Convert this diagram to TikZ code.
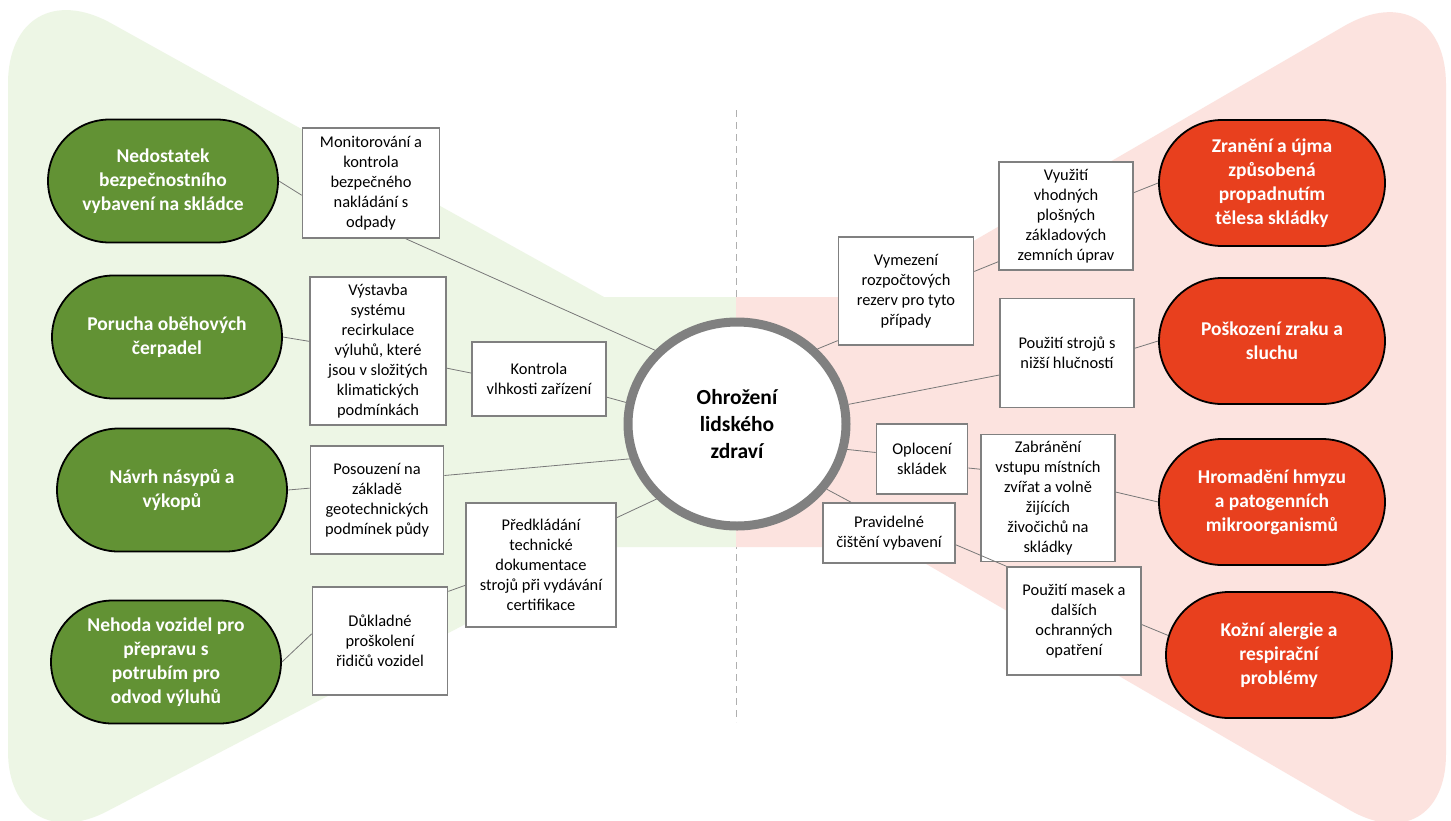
\documentclass[tikz,border=0pt]{standalone}
\usepackage{fontspec}
\setmainfont{Carlito}
\usetikzlibrary{positioning,calc,shapes.misc,shapes.geometric}

\definecolor{leafgreen}{RGB}{98,146,52}
\definecolor{harmred}{RGB}{232,64,30}
\definecolor{palegreen}{RGB}{237,246,229}
\definecolor{palered}{RGB}{252,227,223}
\definecolor{boxgray}{RGB}{128,128,128}
\definecolor{linkgray}{RGB}{120,120,120}
\definecolor{dashgray}{RGB}{175,175,175}

\begin{document}
\begin{tikzpicture}[x=1pt, y=-1pt,
		cause/.style={shape=rounded rectangle, draw=black, line width=1.8pt, fill=leafgreen, text=white, font=\fontsize{19.5}{24}\selectfont\bfseries, align=center, minimum width=230pt, minimum height=123pt, inner sep=0pt},
		harm/.style={cause, fill=harmred, minimum width=226pt, minimum height=126pt},
		measure/.style={draw=boxgray, line width=1.6pt, fill=white, font=\fontsize{16.4}{20}\selectfont, align=center, minimum width=134pt, minimum height=108pt, inner sep=2pt},
		hub/.style={ellipse, draw=boxgray, line width=9pt, fill=white, font=\fontsize{21.5}{27}\selectfont\bfseries, align=center, minimum width=218pt, minimum height=204pt},
		link/.style={draw=linkgray, line width=0.8pt},
	]
		\useasboundingbox (0,0) rectangle (1451,820);
		\fill[white] (0,0) rectangle (1451,820);
		
		\coordinate (divtop) at (736,110);
		\coordinate (divbot) at (736,722);
		\draw[dashgray, line width=1pt, dash pattern=on 7pt off 5pt] (divtop) -- (divbot);
		
		\fill[palegreen] (8,400) [rounded corners=118pt] -- (8,-34) -- ($(8,-34)!0.5!(604,297)$) [sharp corners] -- (604,297) -- (736,297) -- (736,547) -- (613,547) -- ($(613,547)!0.5!(8,863)$) [rounded corners=112pt] -- (8,863) -- cycle;
		\fill[palered] (1446,400) [rounded corners=118pt] -- (1446,-33) -- ($(1446,-33)!0.5!(877,297)$) [sharp corners] -- (877,297) -- (736,297) -- (736,547) -- (897,547) -- ($(897,547)!0.5!(1446,866)$) [rounded corners=112pt] -- (1446,866) -- cycle;
		
		\node (ohr) [hub] at (737,424) {Ohrožení\\lidského\\zdraví};
		
		\node (nedo) [cause] at (163,181) {Nedostatek\\bezpečnostního\\vybavení na skládce};
		\node (poru) [cause] at (167,337) {Porucha oběhových\\čerpadel};
		\node (navr) [cause] at (172,490) {Návrh násypů a\\výkopů};
		\node (neho) [cause] at (166,662) {Nehoda vozidel pro\\přepravu s\\potrubím pro\\odvod výluhů};
		
		\node (zran) [harm] at (1272,183) {Zranění a újma\\způsobená\\propadnutím\\tělesa skládky};
		\node (posk) [harm] at (1272,341) {Poškození zraku a\\sluchu};
		\node (hmyz) [harm] at (1272,502) {Hromadění hmyzu\\a patogenních\\mikroorganismů};
		\node (kozni) [harm] at (1279,655) {Kožní alergie a\\respirační\\problémy};
		
		\node (mon) [measure, minimum width=137pt, minimum height=110pt] at (371,183) {Monitorování a\\kontrola\\bezpečného\\nakládání s\\odpady};
		\node (vyst) [measure, minimum width=136pt, minimum height=148pt] at (378,351) {Výstavba\\systému\\recirkulace\\výluhů, které\\jsou v složitých\\klimatických\\podmínkách};
		\node (vlhk) [measure, minimum height=74pt] at (539,379) {Kontrola\\vlhkosti zařízení};
		\node (poso) [measure, minimum width=133pt] at (377,500) {Posouzení na\\základě\\geotechnických\\podmínek půdy};
		\node (pred) [measure, minimum width=150pt, minimum height=124pt] at (541,565) {Předkládání\\technické\\dokumentace\\strojů při vydávání\\certifikace};
		\node (skol) [measure, minimum width=135pt] at (380,641) {Důkladné\\proškolení\\řidičů vozidel};
		
		\node (rezv) [measure, minimum width=135pt] at (906,291) {Vymezení\\rozpočtových\\rezerv pro tyto\\případy};
		\node (zakl) [measure] at (1066,216) {Využití\\vhodných\\plošných\\základových\\zemních úprav};
		\node (hluc) [measure, minimum height=109pt] at (1067,353) {Použití strojů s\\nižší hlučností};
		\node (oplo) [measure, minimum width=91pt, minimum height=70pt] at (922,459) {Oplocení\\skládek};
		\node (zvir) [measure, minimum height=127pt] at (1048,498) {Zabránění\\vstupu místních\\zvířat a volně\\žijících\\živočichů na\\skládky};
		\node (cist) [measure, minimum width=132pt, minimum height=60pt] at (889,533) {Pravidelné\\čištění vybavení};
		\node (masky) [measure] at (1074,621) {Použití masek a\\dalších\\ochranných\\opatření};
		
		\draw[link] (nedo.east) -- (mon.190);
		\draw[link] (mon.302) -- (ohr.138);
		\draw[link] (poru.east) -- (vyst.172);
		\draw[link] (vyst.346) -- (vlhk.175);
		\draw[link] (vlhk.345) -- (ohr.169);
		\draw[link] (navr.east) -- (poso.170);
		\draw[link] (poso.20) -- (ohr.198);
		\draw[link] (neho.east) -- (skol.174);
		\draw[link] (skol.36) -- (pred.195);
		\draw[link] (pred.32) -- (ohr.223);
		
		\draw[link] (zran.west) -- (zakl.19);
		\draw[link] (zakl.214) -- (rezv.16);
		\draw[link] (rezv.216) -- (ohr.43);
		\draw[link] (posk.west) -- (hluc.4);
		\draw[link] (hluc.198) -- (ohr.10);
		\draw[link] (hmyz.west) -- (zvir.5);
		\draw[link] (zvir.157) -- (oplo.349);
		\draw[link] (oplo.172) -- (ohr.347);
		\draw[link] (kozni.170) -- (masky.357);
		\draw[link] (masky.north west) -- (cist.350);
		\draw[link] (cist.141) -- (ohr.324);
	\end{tikzpicture}
\end{document}
